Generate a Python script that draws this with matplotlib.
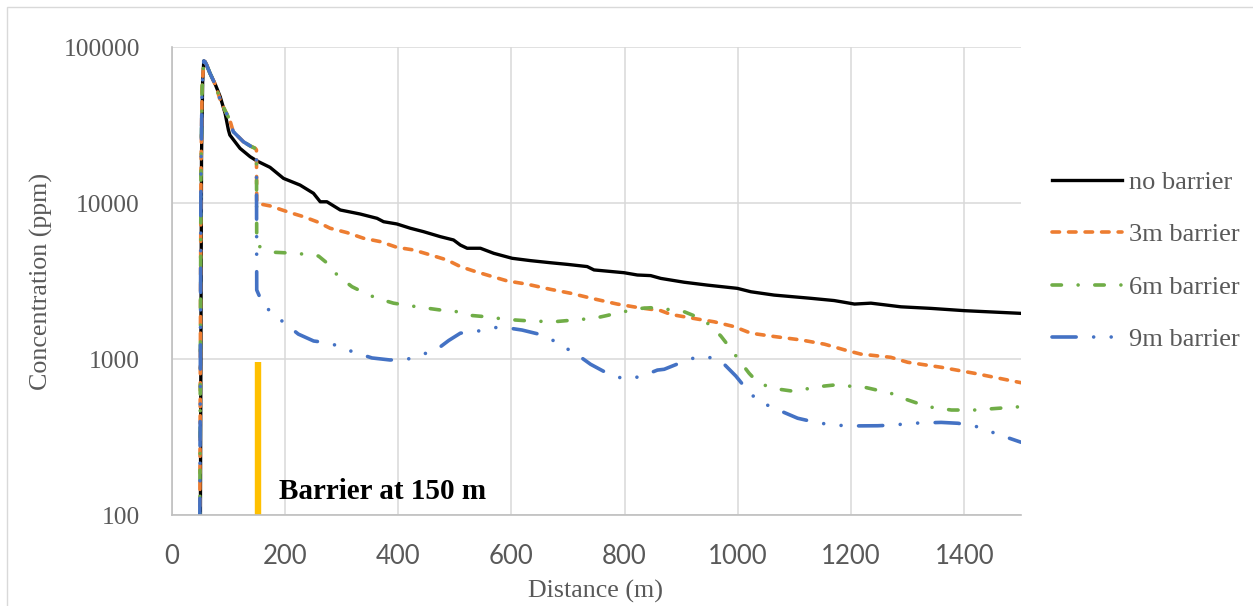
import matplotlib
matplotlib.use("Agg")
import matplotlib.pyplot as plt
from matplotlib.ticker import FixedLocator, FixedFormatter, NullLocator

plt.rcParams['lines.scale_dashes'] = False

# ---------------- data ----------------
# no barrier
x_nb = [51, 53, 55, 57, 59, 62, 68, 78, 86, 94.6, 100.5, 103, 121, 138.8, 150.7, 174, 197.7,
        227, 250.7, 262.6, 274.4, 298, 333, 363, 374.5, 398, 421.7, 445, 474.8, 498, 510,
        522, 545.5, 569, 601.6, 634, 669, 699, 734, 746, 799, 822.6, 846, 864, 905, 946,
        999, 1023, 1064, 1129, 1170, 1182, 1206, 1235, 1288, 1341, 1400, 1500]
c_nb = [90, 20000, 60000, 81700, 81000, 77100, 68100, 57000, 48200, 37800, 29500, 27400,
        22500, 19900, 18700, 17000, 14450, 13090, 11590, 10230, 10230, 9060, 8540, 8010,
        7620, 7370, 6920, 6580, 6110, 5820, 5400, 5150, 5150, 4780, 4440, 4290, 4160, 4060,
        3930, 3740, 3590, 3470, 3440, 3300, 3120, 2990, 2850, 2710, 2580, 2460, 2380, 2340,
        2260, 2290, 2170, 2120, 2050, 1970]

# common part of the barrier cases, upstream of the barrier
x_near = [50, 52, 54, 57, 59, 62, 68, 78, 86, 95, 103, 109, 127, 140, 148, 150]
c_near = [90, 15000, 55000, 81700, 81000, 77100, 68100, 57000, 45900, 39000, 34200, 28800,
          24800, 23200, 22500, 22000]

# 3m barrier downstream
x_3 = [150.5, 174, 209.5, 233, 256.8, 280, 309.8, 339, 368.7, 398, 427.6, 457, 486.6, 510,
       533.7, 563, 592.7, 628, 669, 705, 746, 787, 822.6, 864, 881.5, 929, 958, 993.5, 1023,
       1064, 1112, 1153, 1188, 1217, 1270, 1300, 1359, 1418, 1500]
c_3 = [10000, 9620, 8710, 8210, 7620, 6920, 6490, 5970, 5680, 5220, 5020, 4670, 4330, 3930,
       3680, 3420, 3180, 3030, 2810, 2650, 2440, 2260, 2150, 2050, 1940, 1810, 1740, 1620,
       1470, 1400, 1330, 1250, 1150, 1080, 1030, 957, 889, 813, 708]

# 6m barrier downstream
x_6 = [150.5, 156.5, 183, 221, 259.6, 286, 292, 318.7, 345, 363, 392, 433.6, 474.8, 504, 522,
       551, 593, 634, 675, 713.5, 746, 766.6, 793, 828.5, 846, 875.6, 905, 923, 949, 970, 985,
       1001, 1020, 1035, 1061, 1094, 1112, 1141, 1170, 1194, 1223, 1270, 1300, 1335, 1377,
       1418, 1459, 1500]
c_6 = [5300, 5270, 4850, 4780, 4590, 3830, 3470, 2920, 2620, 2460, 2290, 2170, 2070, 2020,
       1920, 1880, 1800, 1760, 1740, 1790, 1830, 1900, 2000, 2120, 2140, 2090, 2020, 1900,
       1680, 1410, 1200, 1000, 813, 712, 652, 627, 636, 667, 684, 674, 663, 606, 549, 497,
       473, 473, 485, 497]

# 9m barrier downstream
x_9 = [150.5, 162, 186, 224, 251, 280, 310, 354, 386, 416, 445, 469, 489.5, 510, 542.5, 569,
       598.6, 619, 648.6, 676, 701.7, 716.5, 740, 769.6, 799, 828.5, 858, 870, 899, 929, 958,
       976, 996.5, 1014, 1035, 1064, 1105.6, 1138, 1167.5, 1200, 1247, 1276, 1306, 1359,
       1388.5, 1418, 1447, 1477, 1500]
c_9 = [2780, 2230, 1870, 1450, 1310, 1270, 1150, 1020, 990, 1000, 1080, 1160, 1320, 1470,
       1520, 1600, 1580, 1540, 1450, 1310, 1150, 1070, 929, 813, 748, 774, 853, 863, 951,
       1040, 1020, 929, 781, 652, 543, 486, 419, 394, 379, 374, 375, 379, 389, 394, 389, 374,
       343, 314, 294]

barrier_x = [152, 152]
barrier_c = [100, 966]

series_labels = ["no barrier", "3m barrier", "6m barrier", "9m barrier"]
x_ticks = [0, 200, 400, 600, 800, 1000, 1200, 1400]
y_ticks = [100, 1000, 10000, 100000]
y_tick_labels = ["100", "1000", "10000", "100000"]

# ---------------- figure ----------------
W, H = 1253, 606
fig = plt.figure(figsize=(W / 100, H / 100), dpi=100)
ax = fig.add_axes([171.5 / W, 1 - 515.3 / H, (1021 - 171.5) / W, (515.3 - 47.3) / H])

serif = "Liberation Serif"
grey = "#595959"

ax.plot(x_nb, c_nb, color="black", lw=2.4, solid_joinstyle="round", label=series_labels[0])
ax.plot(x_near + x_3, c_near + c_3, color="#ED7D31", lw=2.6, dash_capstyle="round",
        linestyle=(0, (5.4, 6.5)), label=series_labels[1])
ax.plot(x_near + x_6, c_near + c_6, color="#70AD47", lw=2.6, dash_capstyle="round",
        linestyle=(0, (6.8, 12, 0.01, 12)), label=series_labels[2])
ax.plot(x_near + x_9, c_near + c_9, color="#4472C4", lw=2.6, dash_capstyle="round",
        linestyle=(0, (17.4, 12.6, 0.01, 12.6, 0.01, 12.6)), label=series_labels[3])

ax.plot(barrier_x, barrier_c, color="#FFC000", lw=4.6, solid_capstyle="butt")

ax.text(190.6, 127, "Barrier at 150 m", family=serif, fontweight="bold", fontsize=21,
        ha="left", va="baseline", color="black")

ax.set_yscale("log")
ax.set_xlim(0, 1500)
ax.set_ylim(100, 100000)
ax.yaxis.set_major_locator(FixedLocator(y_ticks))
ax.yaxis.set_major_formatter(FixedFormatter(y_tick_labels))
ax.yaxis.set_minor_locator(NullLocator())
ax.set_xticks(x_ticks)

ax.grid(True, which="major", color="#d9d9d9", lw=1.1)
ax.set_axisbelow(True)
for s in ["top", "right"]:
    ax.spines[s].set_visible(False)
for s in ["left", "bottom"]:
    ax.spines[s].set_color("#bfbfbf")
    ax.spines[s].set_linewidth(1.2)

ax.tick_params(axis="y", length=0, pad=22.7, labelsize=18.4, labelcolor=grey)
ax.tick_params(axis="x", length=0, pad=20.5, labelsize=18.5, labelcolor=grey)
for t in ax.get_yticklabels():
    t.set_family(serif)
for t in ax.get_xticklabels():
    t.set_family("Lato")

fig.text(41 / W, 1 - 281 / H, "Concentration (ppm)", rotation=90, ha="center", va="center",
         family=serif, fontsize=18.7, color=grey)
fig.text(595 / W, 1 - 591 / H, "Distance (m)", ha="center", va="center",
         family=serif, fontsize=18.7, color=grey)

leg = fig.legend(loc="center left", bbox_to_anchor=(1052 / W, 1 - 261 / H),
                 frameon=False, borderpad=0, borderaxespad=0, handlelength=2.65,
                 handletextpad=0.25, labelspacing=1.1,
                 prop={"family": serif, "size": 19})
for t in leg.get_texts():
    t.set_color(grey)

# chart border
fig.patches.append(plt.Rectangle((6.5 / W, -0.05), 1.2, 1 - 7.3 / H + 0.05,
                                 transform=fig.transFigure, fill=False,
                                 ec="#d9d9d9", lw=1.0))

fig.savefig("out.png", dpi=100)
